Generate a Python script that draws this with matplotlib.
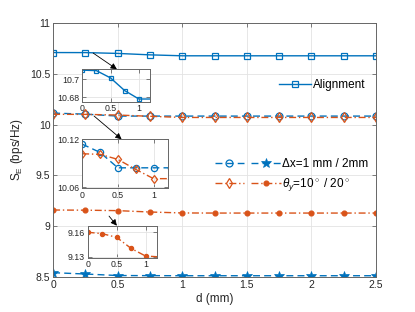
import matplotlib
matplotlib.use("Agg")
import matplotlib.pyplot as plt
from matplotlib.legend_handler import HandlerTuple

plt.rcParams['font.family'] = ['Liberation Sans', 'DejaVu Sans']
plt.rcParams['mathtext.fontset'] = 'custom'
plt.rcParams['mathtext.rm'] = 'Liberation Sans'
plt.rcParams['mathtext.it'] = 'Liberation Sans:italic'

# ---- data ----
d = [0, 0.25, 0.5, 0.75, 1.0, 1.25, 1.5, 1.75, 2.0, 2.25, 2.5]
alignment = [10.710, 10.7095, 10.7014, 10.6873, 10.678, 10.678, 10.678, 10.678, 10.678, 10.678, 10.678]
dx_1mm = [10.114, 10.1037, 10.0845, 10.0845, 10.0845, 10.0845, 10.0845, 10.0845, 10.0845, 10.0845, 10.0845]
dx_2mm = [8.543, 8.530, 8.515, 8.514, 8.513, 8.513, 8.513, 8.513, 8.513, 8.513, 8.513]
theta_10 = [10.102, 10.1013, 10.095, 10.0825, 10.071, 10.071, 10.071, 10.071, 10.071, 10.071, 10.071]
theta_20 = [9.160, 9.1583, 9.1538, 9.1403, 9.131, 9.130, 9.130, 9.130, 9.130, 9.130, 9.130]

xticks = [0, 0.5, 1, 1.5, 2, 2.5]
yticks = [8.5, 9, 9.5, 10, 10.5, 11]

BLUE = '#0072BD'
ORANGE = '#D95319'
TXT = '#262626'
EDGE = '#666666'

fig = plt.figure(figsize=(4.15, 3.12), dpi=100)
ax = fig.add_axes([0.128, 0.112, 0.778, 0.814])

def style(a, fs):
    a.tick_params(direction='in', top=True, right=True, labelsize=fs, colors=EDGE,
                  labelcolor=TXT, length=3, width=0.6, pad=2)
    for s in a.spines.values():
        s.set_color(EDGE)
        s.set_linewidth(0.7)
    a.grid(True, color='#e3e3e3', linewidth=0.6)
    a.set_axisbelow(True)

def draw(a, ms=4):
    la, = a.plot(d, alignment, '-', color=BLUE, marker='s', mfc='none', ms=ms, mew=0.9, lw=1.0)
    l1, = a.plot(d, dx_1mm, '--', color=BLUE, marker='o', mfc='none', ms=ms + 1, mew=0.9, lw=1.0, dashes=(5, 3))
    l2, = a.plot(d, dx_2mm, '--', color=BLUE, marker='*', ms=ms + 3, mew=0.5, lw=1.0, dashes=(5, 3))
    l3, = a.plot(d, theta_10, '-.', color=ORANGE, marker='d', mfc='none', ms=ms + 1, mew=0.9, lw=1.0, dashes=(5, 2, 1, 2))
    l4, = a.plot(d, theta_20, '-.', color=ORANGE, marker='o', ms=ms - 0.5, mew=0.9, lw=1.0, dashes=(5, 2, 1, 2))
    return la, l1, l2, l3, l4

la, l1, l2, l3, l4 = draw(ax)
ax.set_xlim(0, 2.5)
ax.set_ylim(8.5, 11)
ax.set_xticks(xticks)
ax.set_xticklabels(['0', '0.5', '1', '1.5', '2', '2.5'])
ax.set_yticks(yticks)
ax.set_yticklabels(['8.5', '9', '9.5', '10', '10.5', '11'])
style(ax, 7.5)
ax.set_xlabel('d (mm)', fontsize=8.5, color=TXT, labelpad=2)
ax.set_ylabel('S$_\\mathrm{E}$ (bps/Hz)', fontsize=8.5, color=TXT, labelpad=4)

leg1 = ax.legend([la], ['Alignment'], loc='center left', bbox_to_anchor=(0.70, 0.757),
                 frameon=False, fontsize=8.5, handlelength=2.7, handletextpad=0.15,
                 borderaxespad=0, borderpad=0)
ax.add_artist(leg1)
ax.legend([(l1, l2), (l3, l4)], ['Δx=1 mm / 2mm', r'$\theta_y$=10$^\circ$ / 20$^\circ$'],
          handler_map={tuple: HandlerTuple(ndivide=None, pad=0.6)},
          loc='center left', bbox_to_anchor=(0.50, 0.40), frameon=False,
          fontsize=8.5, handlelength=5.6, handletextpad=0.15, labelspacing=0.55,
          borderaxespad=0, borderpad=0)

# insets
ins1 = fig.add_axes([0.198, 0.674, 0.164, 0.104])
draw(ins1, ms=3.5)
ins1.set_xlim(0, 1.2)
ins1.set_ylim(10.675, 10.711)
ins1.set_xticks([0, 0.5, 1])
ins1.set_xticklabels(['0', '0.5', '1'])
ins1.set_yticks([10.68, 10.7])
ins1.set_yticklabels(['10.68', '10.7'])
style(ins1, 6.3)

ins2 = fig.add_axes([0.198, 0.3965, 0.2065, 0.157])
draw(ins2, ms=3.5)
ins2.set_xlim(0, 1.2)
ins2.set_ylim(10.059, 10.12)
ins2.set_xticks([0, 0.5, 1])
ins2.set_xticklabels(['0', '0.5', '1'])
ins2.set_yticks([10.06, 10.12])
ins2.set_yticklabels(['10.06', '10.12'])
style(ins2, 6.3)

ins3 = fig.add_axes([0.2113, 0.174, 0.1675, 0.1026])
draw(ins3, ms=3.5)
ins3.set_xlim(0, 1.2)
ins3.set_ylim(9.129, 9.168)
ins3.set_xticks([0, 0.5, 1])
ins3.set_xticklabels(['0', '0.5', '1'])
ins3.set_yticks([9.13, 9.16])
ins3.set_yticklabels(['9.13', '9.16'])
style(ins3, 6.3)

arrowprops = dict(arrowstyle='-|>', color='black', lw=0.6, mutation_scale=9, shrinkA=0, shrinkB=0)
ax.annotate('', xy=(0.51, 1.0), xycoords=ins1.transAxes, xytext=(0.31, 10.705), textcoords='data',
            arrowprops=arrowprops)
ax.annotate('', xy=(0.46, 1.0), xycoords=ins2.transAxes, xytext=(0.317, 10.085), textcoords='data',
            arrowprops=arrowprops)
ax.annotate('', xy=(0.42, 1.0), xycoords=ins3.transAxes, xytext=(0.433, 9.10), textcoords='data',
            arrowprops=arrowprops)

fig.savefig('out.png', dpi=100)
